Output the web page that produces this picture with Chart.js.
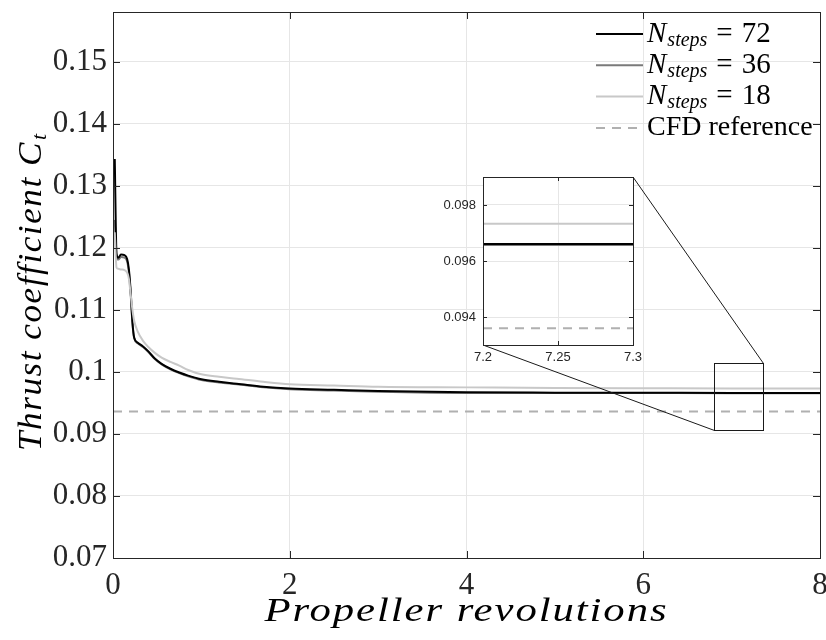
<!DOCTYPE html>
<html>
<head>
<meta charset="utf-8">
<script src="https://cdn.jsdelivr.net/npm/chart.js@4.4.1/dist/chart.umd.min.js"></script>
<style>
    html, body { margin: 0; padding: 0; background: #ffffff; }
    #wrap { position: relative; width: 826px; height: 640px; }
    #insetBox { position: absolute; left: 436px; top: 170px; width: 214px; height: 200px; }
</style>
</head>
<body>
<div id="wrap">
    <canvas id="mainChart" width="826" height="640"></canvas>
    <div id="insetBox"><canvas id="insetChart" width="214" height="200"></canvas></div>
</div>
<script>
// Thrust coefficient vs propeller revolutions

const revs = [0.02, 0.04, 0.06, 0.09, 0.13, 0.16, 0.18, 0.20, 0.22, 0.24, 0.28, 0.34, 0.40, 0.47, 0.55,
              0.65, 0.75, 0.85, 1.0, 1.2, 1.4, 1.7, 2.0, 2.5, 3.0, 4.0, 5.0, 6.0, 7.0, 8.0];

const ct72 = [0.1343, 0.1190, 0.1184, 0.1189, 0.1188, 0.1182, 0.1165, 0.1130, 0.1080, 0.1055, 0.1047, 0.1041, 0.1033, 0.1022, 0.1013,
              0.1005, 0.0999, 0.0994, 0.0988, 0.0984, 0.0981, 0.0976, 0.0973, 0.0971, 0.0969, 0.0967, 0.09665, 0.09662, 0.09661, 0.0966];

const ct36 = [0.1245, 0.1186, 0.1181, 0.1185, 0.1184, 0.1178, 0.1160, 0.1125, 0.1078, 0.1054, 0.1046, 0.1040, 0.1032, 0.1021, 0.1012,
              0.1004, 0.0998, 0.0993, 0.0987, 0.0983, 0.0980, 0.0975, 0.0972, 0.0970, 0.0968, 0.0966, 0.09661, 0.09658, 0.09657, 0.09657];

const ct18 = [0.1225, 0.1168, 0.1166, 0.1165, 0.1164, 0.1160, 0.1150, 0.1125, 0.1100, 0.1082, 0.1065, 0.1050, 0.1040, 0.1031, 0.1023,
              0.1016, 0.1010, 0.1003, 0.0996, 0.0992, 0.0989, 0.0984, 0.0980, 0.0978, 0.0976, 0.0975, 0.0974, 0.09736, 0.09733, 0.09733];

const cfdRef = 0.0936;

const xTicks = [0, 2, 4, 6, 8];
const yTicks = [0.07, 0.08, 0.09, 0.10, 0.11, 0.12, 0.13, 0.14, 0.15];
const insetXTicks = [7.2, 7.25, 7.3];
const insetYTicks = [0.094, 0.096, 0.098];

const legendSteps = ['72', '36', '18'];

// zoomed window drawn on the main axes
const zoomBox = { x0: 6.8, x1: 7.35, y0: 0.0907, y1: 0.1015 };

const AXIS_COLOR = '#262626';
const GRID_COLOR = '#e6e6e6';
const SERIF = '"Liberation Serif", "Times New Roman", serif';
const SANS = '"Liberation Sans", Arial, sans-serif';

function toPoints(values) {
    return revs.map((r, i) => ({ x: r, y: values[i] }));
}

function buildDatasets() {
    return [
        { label: 'N72', data: toPoints(ct72), borderColor: '#000000', borderWidth: 2, order: 2 },
        { label: 'N36', data: toPoints(ct36), borderColor: '#7a7a7a', borderWidth: 2, order: 3 },
        { label: 'N18', data: toPoints(ct18), borderColor: '#c8c8c8', borderWidth: 2, order: 1 },
        { label: 'CFD', data: [{ x: 0, y: cfdRef }, { x: 8, y: cfdRef }], borderColor: '#b0b0b0',
          borderWidth: 2, borderDash: [9, 7], order: 4 }
    ].map(ds => Object.assign(ds, {
        pointRadius: 0,
        fill: false,
        cubicInterpolationMode: 'monotone'
    }));
}

function noScalePadding(s) {
    s.paddingLeft = 0; s.paddingRight = 0; s.paddingTop = 0; s.paddingBottom = 0;
}

// draw frame and inward ticks on all four sides
function drawFrame(chart, tickLen) {
    const ctx = chart.ctx;
    const a = chart.chartArea;
    const xs = chart.scales.x, ys = chart.scales.y;
    ctx.save();
    ctx.strokeStyle = AXIS_COLOR;
    ctx.lineWidth = 1;
    ctx.beginPath();
    xs.ticks.forEach(t => {
        const px = Math.round(xs.getPixelForValue(t.value)) + 0.5;
        ctx.moveTo(px, a.bottom); ctx.lineTo(px, a.bottom - tickLen);
        ctx.moveTo(px, a.top); ctx.lineTo(px, a.top + tickLen);
    });
    ys.ticks.forEach(t => {
        const py = Math.round(ys.getPixelForValue(t.value)) + 0.5;
        ctx.moveTo(a.left, py); ctx.lineTo(a.left + tickLen, py);
        ctx.moveTo(a.right, py); ctx.lineTo(a.right - tickLen, py);
    });
    ctx.stroke();
    ctx.strokeRect(Math.round(a.left) + 0.5, Math.round(a.top) + 0.5,
                   Math.round(a.right - a.left), Math.round(a.bottom - a.top));
    ctx.restore();
}

// math-italic style text: letter spaced, then fitted to a target width
function fillWide(ctx, text, x, y, targetWidth) {
    ctx.save();
    ctx.letterSpacing = '1.5px';
    const w = ctx.measureText(text).width;
    const k = targetWidth / w;
    ctx.translate(x, y);
    ctx.scale(k, 1);
    ctx.fillText(text, 0, 0);
    ctx.restore();
    return w * k;
}

// "N_steps = xx"
function drawNSteps(ctx, x, y, value, size) {
    ctx.font = 'italic ' + size + 'px ' + SERIF;
    ctx.fillText('N', x, y);
    x += ctx.measureText('N').width + 1;
    ctx.font = 'italic ' + Math.round(size * 0.68) + 'px ' + SERIF;
    ctx.fillText('steps', x, y + size * 0.22);
    x += ctx.measureText('steps').width + 9;
    ctx.font = size + 'px ' + SERIF;
    ctx.fillText('=', x, y);
    x += ctx.measureText('=').width + 9;
    ctx.fillText(value, x, y);
}

const whitePlugin = {
    id: 'insetWhite',
    beforeDraw(chart) {
        const a = chart.chartArea;
        chart.ctx.save();
        chart.ctx.fillStyle = '#ffffff';
        chart.ctx.fillRect(a.left, a.top, a.right - a.left, a.bottom - a.top);
        chart.ctx.restore();
    },
    afterDraw(chart) {
        drawFrame(chart, 4);
    }
};

// Inset chart
const insetChart = new Chart(document.getElementById('insetChart'), {
    type: 'line',
    data: { datasets: buildDatasets() },
    options: {
        responsive: false,
        animation: false,
        events: [],
        layout: { padding: { top: 7, right: 17, left: 0, bottom: 0 } },
        plugins: { legend: { display: false }, tooltip: { enabled: false } },
        scales: {
            x: {
                type: 'linear', min: 7.2, max: 7.3,
                afterBuildTicks: s => { s.ticks = insetXTicks.map(v => ({ value: v })); },
                afterFit: s => { s.height = 25; noScalePadding(s); },
                grid: { color: GRID_COLOR, drawTicks: false },
                border: { display: false },
                ticks: {
                    font: { family: SANS, size: 13 }, color: AXIS_COLOR, padding: 5, maxRotation: 0,
                    callback: v => String(parseFloat(v.toFixed(2)))
                }
            },
            y: {
                type: 'linear', min: 0.093, max: 0.099,
                afterBuildTicks: s => { s.ticks = insetYTicks.map(v => ({ value: v })); },
                afterFit: s => { s.width = 47; noScalePadding(s); },
                grid: { color: GRID_COLOR, drawTicks: false },
                border: { display: false },
                ticks: {
                    font: { family: SANS, size: 13 }, color: AXIS_COLOR, padding: 7,
                    callback: v => v.toFixed(3)
                }
            }
        }
    },
    plugins: [whitePlugin]
});

const decorPlugin = {
    id: 'decor',
    afterDatasetsDraw(chart) {
        const ctx = chart.ctx;
        const xs = chart.scales.x, ys = chart.scales.y;
        const bx0 = Math.round(xs.getPixelForValue(zoomBox.x0)) + 0.5;
        const bx1 = Math.round(xs.getPixelForValue(zoomBox.x1)) + 0.5;
        const by0 = Math.round(ys.getPixelForValue(zoomBox.y0)) + 0.5;
        const by1 = Math.round(ys.getPixelForValue(zoomBox.y1)) + 0.5;
        const ia = insetChart.chartArea;
        const holder = document.getElementById('insetBox');
        const il = holder.offsetLeft + ia.left, ir = holder.offsetLeft + ia.right;
        const it = holder.offsetTop + ia.top, ib = holder.offsetTop + ia.bottom;

        ctx.save();
        ctx.strokeStyle = '#1a1a1a';
        ctx.lineWidth = 1;
        ctx.strokeRect(bx0, by1, bx1 - bx0, by0 - by1);
        ctx.beginPath();
        ctx.moveTo(ir, it); ctx.lineTo(bx1, by1);
        ctx.moveTo(il, ib); ctx.lineTo(bx0, by0);
        ctx.stroke();
        ctx.restore();
    },
    afterDraw(chart) {
        const ctx = chart.ctx;
        const a = chart.chartArea;
        drawFrame(chart, 7);

        ctx.save();
        ctx.fillStyle = '#000000';
        ctx.textBaseline = 'middle';
        ctx.textAlign = 'left';

        // x title
        ctx.font = 'italic 33px ' + SERIF;
        fillWide(ctx, 'Propeller revolutions', (a.left + a.right) / 2 - 202, 612, 404);

        // y title with subscript
        ctx.save();
        ctx.translate(32, (a.top + a.bottom) / 2);
        ctx.rotate(-Math.PI / 2);
        ctx.font = 'italic 33px ' + SERIF;
        const start = -166;
        const wMain = fillWide(ctx, 'Thrust coefficient C', start, 0, 310);
        ctx.font = 'italic 22px ' + SERIF;
        ctx.fillText('t', start + wMain + 1, 8);
        ctx.restore();

        // legend
        const styles = chart.data.datasets;
        const lx0 = a.right - 224, lx1 = a.right - 177, tx = a.right - 173;
        for (let i = 0; i < 4; i++) {
            const ly = a.top + 22 + i * 31.3;
            const ds = styles[i];
            ctx.save();
            ctx.strokeStyle = ds.borderColor;
            ctx.lineWidth = 2;
            ctx.setLineDash(ds.borderDash || []);
            ctx.beginPath();
            ctx.moveTo(lx0, ly); ctx.lineTo(lx1, ly);
            ctx.stroke();
            ctx.restore();
            ctx.fillStyle = '#000000';
            if (i < 3) {
                drawNSteps(ctx, tx, ly, legendSteps[i], 29);
            } else {
                ctx.font = '28px ' + SERIF;
                ctx.fillText('CFD reference', tx, ly);
            }
        }
        ctx.restore();
    }
};

// Main chart
new Chart(document.getElementById('mainChart'), {
    type: 'line',
    data: { datasets: buildDatasets() },
    options: {
        responsive: false,
        animation: false,
        events: [],
        layout: { padding: { top: 12, right: 6, left: 0, bottom: 0 } },
        plugins: { legend: { display: false }, tooltip: { enabled: false } },
        scales: {
            x: {
                type: 'linear', min: 0, max: 8,
                afterBuildTicks: s => { s.ticks = xTicks.map(v => ({ value: v })); },
                afterFit: s => { s.height = 82; noScalePadding(s); },
                grid: { color: GRID_COLOR, drawTicks: false },
                border: { display: false },
                ticks: {
                    font: { family: SERIF, size: 31 }, color: AXIS_COLOR, padding: 9, maxRotation: 0,
                    callback: v => String(v)
                }
            },
            y: {
                type: 'linear', min: 0.07, max: 0.158,
                afterBuildTicks: s => { s.ticks = yTicks.map(v => ({ value: v })); },
                afterFit: s => { s.width = 113; noScalePadding(s); },
                grid: { color: GRID_COLOR, drawTicks: false },
                border: { display: false },
                ticks: {
                    font: { family: SERIF, size: 31 }, color: AXIS_COLOR, padding: 6,
                    callback: v => String(Math.round(v * 100) / 100)
                }
            }
        }
    },
    plugins: [decorPlugin]
});
</script>
</body>
</html>
